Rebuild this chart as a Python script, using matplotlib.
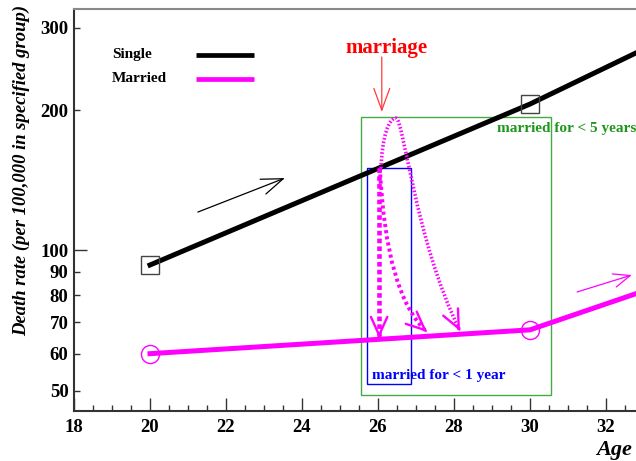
import numpy as np
import matplotlib.pyplot as plt
from matplotlib.path import Path
from matplotlib.patches import PathPatch, Rectangle
from matplotlib.ticker import MultipleLocator, NullLocator

plt.rcParams['font.family'] = 'Liberation Serif'
plt.rcParams['font.weight'] = 'bold'

# Death rate per 100,000 by age
age = [20, 30, 35]
single = [93, 206, 324]
married = [60, 67.5, 93]

x_ticks = [18, 20, 22, 24, 26, 28, 30, 32]
y_ticks = [50, 60, 70, 80, 90, 100, 200, 300]

# annotation boxes (age range, rate range)
box_5yr = [25.55, 30.55, 48.8, 193]
box_1yr = [25.71, 26.88, 51.6, 150]

# dotted "marriage" arrows: control points (age, rate)
arrow1 = [(26.03, 150), (26.03, 64.8)]
arrow2 = [(26.05, 150), (26.21, 80.2), (27.29, 66.8)]
arrow3 = [(26.08, 150), (26.105, 172.5), (26.26, 192.2), (26.47, 192.2),
          (26.68, 192.2), (26.97, 105.2), (28.16, 67.1)]

MAG = '#ff00ff'

fig = plt.figure(figsize=(6.36, 4.61), dpi=100)
ax = fig.add_axes([74 / 636, 50 / 461, 562 / 636, 402 / 461])
ax.set_yscale('log')
ax.set_xlim(18, 32.79)
ax.set_ylim(45.2, 329.5)

ax.plot(age, single, color='black', lw=3.6, marker='s', ms=13,
        mfc='none', mec='#444444', mew=1.0, zorder=3)
ax.plot(age, married, color=MAG, lw=3.6, marker='o', ms=13,
        mfc='none', mec=MAG, mew=1.0, zorder=3)

# axes styling
ax.spines['right'].set_visible(False)
for s in ['left', 'bottom']:
    ax.spines[s].set_color('#333333')
    ax.spines[s].set_linewidth(1.5)
ax.spines['top'].set_color('#888888')
ax.spines['top'].set_linewidth(1.5)

ax.set_xticks(x_ticks)
ax.set_xticklabels([str(v) for v in x_ticks])
ax.xaxis.set_minor_locator(MultipleLocator(0.5))
ax.set_yticks(y_ticks)
ax.set_yticklabels([str(v) for v in y_ticks])
ax.yaxis.set_minor_locator(NullLocator())
ax.tick_params(which='both', direction='in', color='#333333', width=1.0,
               labelsize=13.5, top=False, right=False)
ax.tick_params(axis='x', which='major', length=9.5, pad=6)
ax.tick_params(axis='x', which='minor', length=4.3)
ax.tick_params(axis='y', which='major', length=4.3, pad=4)
ax.yaxis.get_major_ticks()[y_ticks.index(100)].tick1line.set_markersize(9.5)

fig.text(21 / 636, 1 - 170 / 461, 'Death rate (per 100,000 in specified group)',
         rotation=90, ha='center', va='center', fontsize=13.4, style='italic')
fig.text(614 / 636, 1 - 450 / 461, 'Age', ha='center', va='center',
         fontsize=16, style='italic')

# legend drawn by hand so the lines line up
for lab, col, yy in [('Single', 'black', 0.8856), ('Married', MAG, 0.8259)]:
    ax.text(0.0676, yy, lab, transform=ax.transAxes, fontsize=11,
            va='center', ha='left')
    ax.plot([0.2171, 0.3203], [yy, yy], transform=ax.transAxes,
            color=col, lw=3.4, solid_capstyle='butt')

# boxes and their labels
ax.add_patch(Rectangle((box_5yr[0], box_5yr[2]), box_5yr[1] - box_5yr[0],
                       box_5yr[3] - box_5yr[2], fill=False,
                       edgecolor='#44aa44', lw=1.0, zorder=2))
ax.add_patch(Rectangle((box_1yr[0], box_1yr[2]), box_1yr[1] - box_1yr[0],
                       box_1yr[3] - box_1yr[2], fill=False,
                       edgecolor='#0000ff', lw=1.0, zorder=2))
ax.text(29.12, 183, 'married for < 5 years', color='#1e961e', fontsize=11,
        ha='left', va='center', zorder=5)
ax.text(25.83, 54.0, 'married for < 1 year', color='#0000ff', fontsize=11,
        ha='left', va='center', zorder=5)

ax.text(26.23, 272, 'marriage', color='#ff0000', fontsize=15,
        ha='center', va='center')


def thin_arrow(p0, p1, color, hl, hw, lw=0.9):
    ax.annotate('', xy=p1, xytext=p0,
                arrowprops=dict(arrowstyle=f'->,head_length={hl},head_width={hw}',
                                color=color, lw=lw, shrinkA=0, shrinkB=0,
                                mutation_scale=10))


thin_arrow((26.1, 259.9), (26.1, 198.1), '#ff3a3a', 1.56, 0.57)
thin_arrow((21.26, 120.8), (23.55, 142.9), 'black', 1.56, 0.57)
thin_arrow((31.24, 81.4), (32.68, 88.5), MAG, 1.2, 0.49)


def dotted_curve(pts, codes, lw, dashes):
    patch = PathPatch(Path(pts, codes), fill=False, edgecolor=MAG, lw=lw,
                      linestyle=(0, dashes), capstyle='butt', zorder=4)
    ax.add_patch(patch)
    tip = np.array(pts[-1])
    p1 = ax.transData.transform(tip)
    p0 = ax.transData.transform(pts[-2])
    u = (p1 - p0) / np.hypot(*(p1 - p0))
    ax.annotate('', xy=tip, xytext=(-u[0] * 2, -u[1] * 2),
                textcoords='offset pixels',
                arrowprops=dict(arrowstyle='->,head_length=1.32,head_width=0.59',
                                color=MAG, lw=1.7, shrinkA=0, shrinkB=0,
                                mutation_scale=10), zorder=4)


dotted_curve(arrow1, [Path.MOVETO, Path.LINETO], 3.3, (1, 0.7))
dotted_curve(arrow2, [Path.MOVETO, Path.CURVE3, Path.CURVE3], 2.8, (0.8, 0.8))
dotted_curve(arrow3, [Path.MOVETO] + [Path.CURVE4] * 6, 2.6, (0.45, 0.55))

fig.savefig('out.png', dpi=100)
